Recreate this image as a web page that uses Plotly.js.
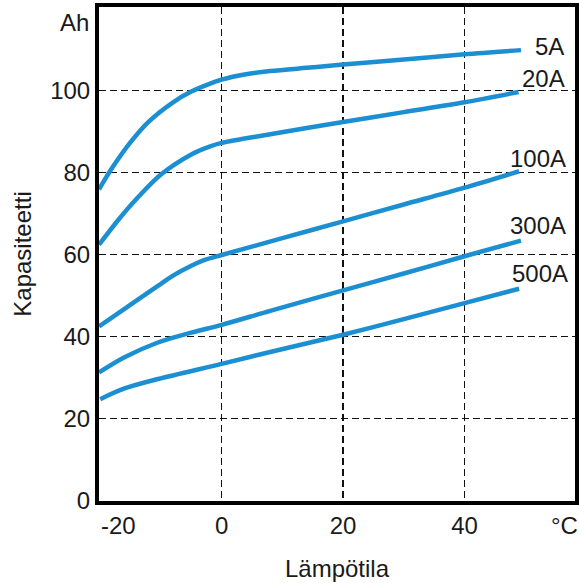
<!DOCTYPE html>
<html>
<head>
<meta charset="utf-8">
<script src="https://cdn.plot.ly/plotly-3.0.1.min.js"></script>
<style>html,body{margin:0;padding:0;background:#fff;}#chart{width:579px;height:583px;}</style>
</head>
<body>
<div id="chart"></div>
<script>
// Temperature (°C) and capacity (Ah)
const seriesNames = ['5A', '20A', '100A', '300A', '500A'];

const x5A = [-20.2, -18, -15, -12, -8, -5, -2, 0, 4, 8, 15, 20, 30, 40, 49.3];
const y5A = [75.9, 81.2, 87.4, 92.4, 97.1, 99.7, 101.6, 102.6, 103.9, 104.7, 105.6, 106.3, 107.5, 108.8, 109.8];

const x20A = [-20.2, -17, -14, -10, -5, -2, 0, 8, 20, 30, 40, 48.9];
const y20A = [62.4, 68.5, 73.6, 79.5, 84.4, 86.3, 87.2, 89.3, 92.3, 94.7, 97.1, 99.6];

const x100A = [-20.2, -16, -10.5, -8, -5, -3, 0, 10, 20, 30, 40, 49];
const y100A = [42.5, 46.8, 52.4, 54.9, 57.3, 58.6, 59.9, 64.0, 68.1, 72.2, 76.3, 80.3];

const x300A = [-20.2, -16, -10.5, -5, 0, 8, 20, 30, 40, 49.3];
const y300A = [31.3, 35.0, 38.6, 41.0, 42.9, 46.3, 51.3, 55.4, 59.6, 63.4];

const x500A = [-20.0, -16, -10.5, 0, 8, 20, 30, 40, 49];
const y500A = [24.8, 27.4, 29.7, 33.4, 36.3, 40.5, 44.3, 48.2, 51.7];

const xTickVals = [0, 20, 40];
const xTickText = ['0', '20', '40'];
const yTickVals = [0, 20, 40, 60, 80, 100];

// curve label positions (right end of each label)
const labelX = [56.7, 56.9, 57.1, 57.1, 57.4];
const labelY = [110.6, 103.0, 83.5, 67.0, 55.3];

const xs = [x5A, x20A, x100A, x300A, x500A];
const ys = [y5A, y20A, y100A, y300A, y500A];

const lineColor = '#1b8fd2';
const font = 'Liberation Sans, Arial, Helvetica, sans-serif';
const txtColor = '#1a1a1a';
const fs = 24;

const traces = seriesNames.map((n, i) => ({
  type: 'scatter', mode: 'lines', name: n,
  x: xs[i], y: ys[i],
  line: {color: lineColor, width: 4.5, shape: 'spline', smoothing: 0.9},
  hoverinfo: 'skip'
}));

const annotations = seriesNames.map((n, i) => ({
  text: n, x: labelX[i], y: labelY[i], xref: 'x', yref: 'y',
  xanchor: 'right', yanchor: 'middle', showarrow: false,
  font: {family: font, size: fs, color: txtColor}
}));
annotations.push({text: 'Ah', xref: 'paper', yref: 'y', x: -0.017, y: 116.6,
  xanchor: 'right', yanchor: 'middle', showarrow: false,
  font: {family: font, size: fs, color: txtColor}});
annotations.push({text: '-20', xref: 'x', yref: 'paper', x: -17.0, y: -0.0506,
  xanchor: 'center', yanchor: 'middle', showarrow: false,
  font: {family: font, size: fs, color: txtColor}});
annotations.push({text: '°C', xref: 'paper', yref: 'paper', x: 0.977, y: -0.0506,
  xanchor: 'center', yanchor: 'middle', showarrow: false,
  font: {family: font, size: fs, color: txtColor}});

const layout = {
  width: 579, height: 583,
  margin: {l: 99, r: 4, t: 7, b: 82},
  paper_bgcolor: '#fff', plot_bgcolor: '#fff',
  showlegend: false,
  font: {family: font, size: fs, color: txtColor},
  xaxis: {
    range: [-20.2, 58.2], tickvals: xTickVals, ticktext: xTickText,
    ticks: '', showgrid: true, gridcolor: '#111', gridwidth: 1.2, griddash: '7px,4px',
    zeroline: false, showline: true, linecolor: '#000', linewidth: 4, mirror: true,
    tickfont: {family: font, size: fs, color: txtColor},
    title: {text: 'Lämpötila', font: {family: font, size: fs, color: txtColor}, standoff: 23}
  },
  yaxis: {
    range: [0, 120.3], tickvals: yTickVals,
    ticks: '', showgrid: true, gridcolor: '#111', gridwidth: 1.2, griddash: '7px,4px',
    zeroline: false, showline: true, linecolor: '#000', linewidth: 4, mirror: true,
    tickfont: {family: font, size: fs, color: txtColor},
    title: {text: 'Kapasiteetti', font: {family: font, size: fs, color: txtColor}, standoff: 13}
  },
  annotations: annotations
};

Plotly.newPlot('chart', traces, layout, {staticPlot: true, displayModeBar: false});
</script>
</body>
</html>
